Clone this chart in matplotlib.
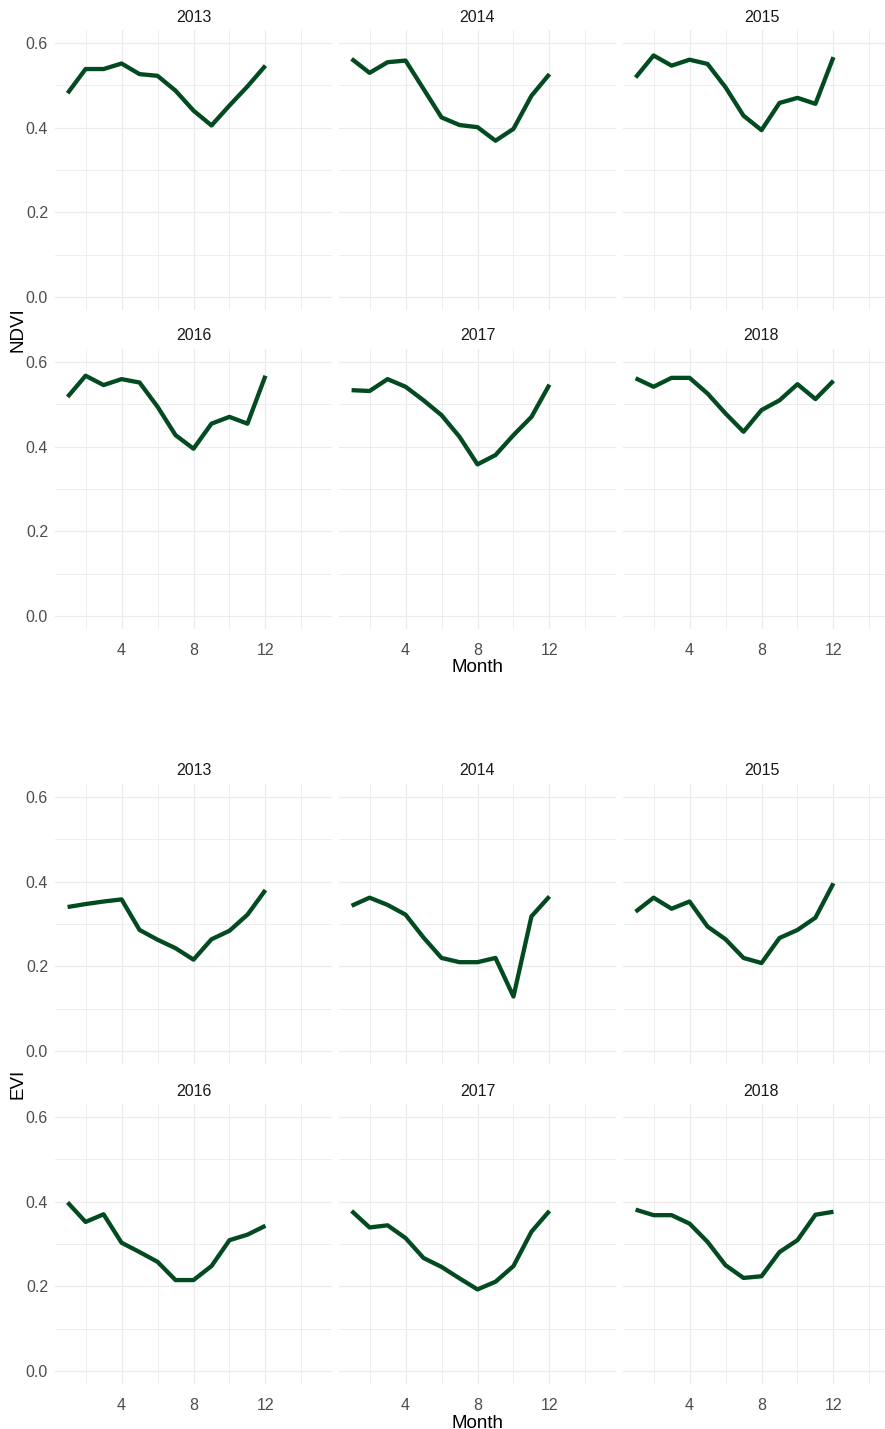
import numpy as np
import matplotlib
matplotlib.use("Agg")
import matplotlib.pyplot as plt
from matplotlib.ticker import FixedLocator

plt.rcParams['font.family'] = ['Liberation Sans Narrow', 'Liberation Sans', 'DejaVu Sans']

months = list(range(1, 13))
years = [2013, 2014, 2015, 2016, 2017, 2018]

# monthly NDVI means per year
ndvi_2013 = [0.481, 0.538, 0.538, 0.551, 0.526, 0.522, 0.487, 0.440, 0.405, 0.452, 0.497, 0.546]
ndvi_2014 = [0.562, 0.529, 0.554, 0.558, 0.491, 0.424, 0.406, 0.401, 0.369, 0.397, 0.475, 0.526]
ndvi_2015 = [0.518, 0.570, 0.546, 0.560, 0.550, 0.495, 0.428, 0.394, 0.458, 0.470, 0.456, 0.566]
ndvi_2016 = [0.517, 0.567, 0.545, 0.559, 0.551, 0.494, 0.427, 0.395, 0.454, 0.470, 0.454, 0.567]
ndvi_2017 = [0.533, 0.531, 0.559, 0.541, 0.509, 0.474, 0.423, 0.358, 0.380, 0.427, 0.470, 0.546]
ndvi_2018 = [0.561, 0.541, 0.562, 0.562, 0.525, 0.478, 0.435, 0.486, 0.509, 0.547, 0.512, 0.555]

# monthly EVI means per year
evi_2013 = [0.340, 0.347, 0.353, 0.358, 0.286, 0.263, 0.243, 0.216, 0.264, 0.284, 0.322, 0.380]
evi_2014 = [0.343, 0.362, 0.345, 0.322, 0.268, 0.220, 0.210, 0.210, 0.220, 0.129, 0.318, 0.365]
evi_2015 = [0.329, 0.362, 0.336, 0.353, 0.294, 0.264, 0.220, 0.208, 0.267, 0.286, 0.315, 0.396]
evi_2016 = [0.398, 0.352, 0.370, 0.303, 0.281, 0.258, 0.215, 0.215, 0.248, 0.309, 0.322, 0.343]
evi_2017 = [0.378, 0.339, 0.344, 0.314, 0.267, 0.246, 0.219, 0.193, 0.211, 0.248, 0.329, 0.378]
evi_2018 = [0.381, 0.368, 0.368, 0.348, 0.305, 0.250, 0.220, 0.224, 0.281, 0.309, 0.369, 0.376]

ndvi = [ndvi_2013, ndvi_2014, ndvi_2015, ndvi_2016, ndvi_2017, ndvi_2018]
evi = [evi_2013, evi_2014, evi_2015, evi_2016, evi_2017, evi_2018]

W, H = 885, 1429
fig = plt.figure(figsize=(W / 100, H / 100), dpi=100)
fig.patch.set_facecolor('white')

LINE = '#024b20'
GRID = '#ebebeb'
col_left = [55, 339, 623]
pw, ph = 277, 280


def px_axes(left, top, w, h):
    return fig.add_axes([left / W, 1 - (top + h) / H, w / W, h / H])


def facet_block(series, row_tops, ylabel):
    for i, (yr, vals) in enumerate(zip(years, series)):
        r, c = divmod(i, 3)
        ax = px_axes(col_left[c], row_tops[r], pw, ph)
        ax.set_xlim(0.3, 15.7)
        ax.set_ylim(-0.03, 0.63)
        ax.xaxis.set_major_locator(FixedLocator([4, 8, 12]))
        ax.xaxis.set_minor_locator(FixedLocator([2, 6, 10, 14]))
        ax.yaxis.set_major_locator(FixedLocator([0.0, 0.2, 0.4, 0.6]))
        ax.yaxis.set_minor_locator(FixedLocator([0.1, 0.3, 0.5]))
        ax.grid(which='major', color=GRID, lw=0.9)
        ax.grid(which='minor', color=GRID, lw=0.6)
        ax.set_axisbelow(True)
        for s in ax.spines.values():
            s.set_visible(False)
        ax.tick_params(which='both', length=0, labelsize=11.5, labelcolor='#4d4d4d')
        ax.tick_params(axis='x', pad=10)
        ax.tick_params(axis='y', pad=5)
        ax.set_yticklabels(['0.0', '0.2', '0.4', '0.6'])
        if r == 0:
            ax.tick_params(axis='x', labelbottom=False)
        if c != 0:
            ax.tick_params(axis='y', labelleft=False)
        ax.plot(months, vals, color=LINE, lw=3.1, solid_capstyle='butt')
        ax.text(0.5, 1 + 13 / ph, str(yr), transform=ax.transAxes,
                ha='center', va='center', fontsize=11.5, color='#1a1a1a')
    bottom = row_tops[1] + ph
    fig.text((col_left[1] + pw / 2) / W, 1 - (bottom + 39) / H, 'Month',
             ha='center', va='center', fontsize=13.5, color='black')
    fig.text(18 / W, 1 - ((row_tops[0] + bottom) / 2) / H, ylabel,
             rotation=90, ha='center', va='center', fontsize=13.5, color='black')


facet_block(ndvi, [30, 349], 'NDVI')
facet_block(evi, [784, 1104], 'EVI')

fig.savefig('out.png', dpi=100, facecolor='white')
